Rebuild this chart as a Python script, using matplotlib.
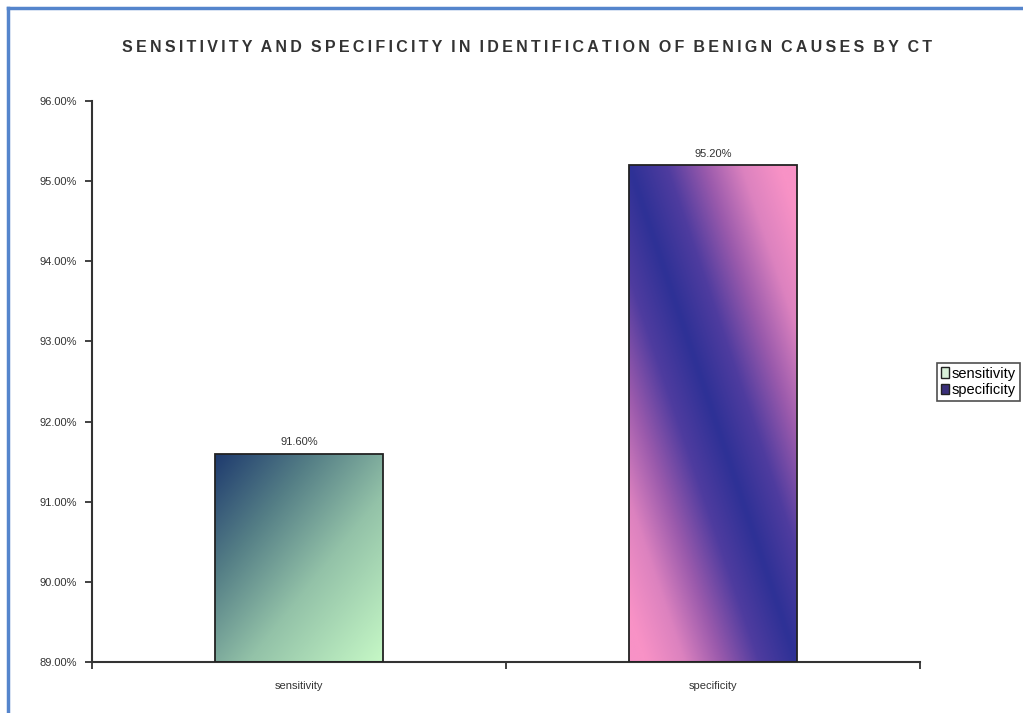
import numpy as np
import matplotlib
matplotlib.use("Agg")
import matplotlib.pyplot as plt
from matplotlib.colors import LinearSegmentedColormap
from matplotlib.patches import Patch
from matplotlib.lines import Line2D

categories = ["sensitivity", "specificity"]
values = [91.60, 95.20]
value_labels = ["91.60%", "95.20%"]
y_ticks = [89, 90, 91, 92, 93, 94, 95, 96]
title = "SENSITIVITY AND SPECIFICITY IN IDENTIFICATION OF BENIGN CAUSES BY CT"

plt.rcParams["font.family"] = ["Liberation Sans", "DejaVu Sans"]

fig = plt.figure(figsize=(10.23, 7.13), dpi=100)
ax = fig.add_axes([92 / 1023, 1 - 662 / 713, (920 - 92) / 1023, (662 - 101) / 713])

x = np.arange(len(categories))
width = 0.405
bars = ax.bar(x, [v - 89 for v in values], width, bottom=89,
              facecolor="none", edgecolor="#222222", linewidth=1.3, zorder=3)

# gradient fills (Excel style)
green_cmap = LinearSegmentedColormap.from_list(
    "g", [(0, "#1e3a6e"), (0.3, "#557f86"), (0.6, "#93c2a8"), (1, "#c6f8c6")])
pink_cmap = LinearSegmentedColormap.from_list(
    "p", [(0, "#2e3196"), (0.25, "#4f3c9f"), (0.5, "#9a5aac"), (0.75, "#dc82bf"), (1, "#f892c6")])

n = 200
u, v = np.meshgrid(np.linspace(0, 1, n), np.linspace(0, 1, n))  # v=0 at top
grad_sens = (u + v) / 2
grad_spec = np.clip(np.abs(u - v) / 0.9, 0, 1)

for bar, grad, cmap in zip(bars, [grad_sens, grad_spec], [green_cmap, pink_cmap]):
    x0, y0 = bar.get_x(), bar.get_y()
    x1, y1 = x0 + bar.get_width(), y0 + bar.get_height()
    im = ax.imshow(grad, cmap=cmap, extent=(x0, x1, y0, y1), origin="upper",
                   aspect="auto", zorder=2, interpolation="bilinear")
    im.set_clip_path(bar)

for xi, val, lab in zip(x, values, value_labels):
    ax.text(xi, val + 0.08, lab, ha="center", va="bottom", fontsize=8, color="#333333")

ax.set_xlim(-0.5, 1.5)
ax.set_ylim(89, 96)
ax.set_yticks(y_ticks)
ax.set_yticklabels(["%.2f%%" % t for t in y_ticks], fontsize=8, color="#333333")
ax.set_xticks([-0.5, 0.5, 1.5])
ax.set_xticklabels([])
ax.set_xticks(x, minor=True)
ax.set_xticklabels(categories, minor=True, fontsize=8, color="#333333")
ax.tick_params(axis="x", which="minor", length=0, pad=14)
ax.tick_params(axis="x", which="major", length=5, width=1.3, color="#333333")
ax.tick_params(axis="y", length=5, width=1.3, color="#333333", pad=6)

for s in ["top", "right"]:
    ax.spines[s].set_visible(False)
for s in ["left", "bottom"]:
    ax.spines[s].set_color("#333333")
    ax.spines[s].set_linewidth(1.5)

# letter-spaced title, like the original
spaced = "\u2009".join(title).replace("\u2009 \u2009", "  ")
fig.text(527 / 1023, 1 - 48 / 713, spaced,
         ha="center", va="center", fontsize=11.5, fontweight="bold", color="#333333")

handles = [Patch(facecolor="#d8efd8", edgecolor="#222222"),
           Patch(facecolor="#3a2f7a", edgecolor="#222222")]
leg = fig.legend(handles, categories, loc="center left",
                 bbox_to_anchor=(937 / 1023, 1 - 382 / 713), fontsize=10.5,
                 frameon=True, fancybox=False, handlelength=0.55, handleheight=0.75,
                 handletextpad=0.15, borderpad=0.3, labelspacing=0.15,
                 borderaxespad=0)
leg.get_frame().set_edgecolor("#222222")
leg.get_frame().set_linewidth(1.2)

# blue frame around the chart
fig.add_artist(Line2D([8 / 1023, 1], [1 - 8 / 713, 1 - 8 / 713], color="#5585cc", lw=2.5))
fig.add_artist(Line2D([8 / 1023, 8 / 1023], [0, 1 - 8 / 713], color="#5585cc", lw=2.5))

fig.savefig("out.png", dpi=100)
